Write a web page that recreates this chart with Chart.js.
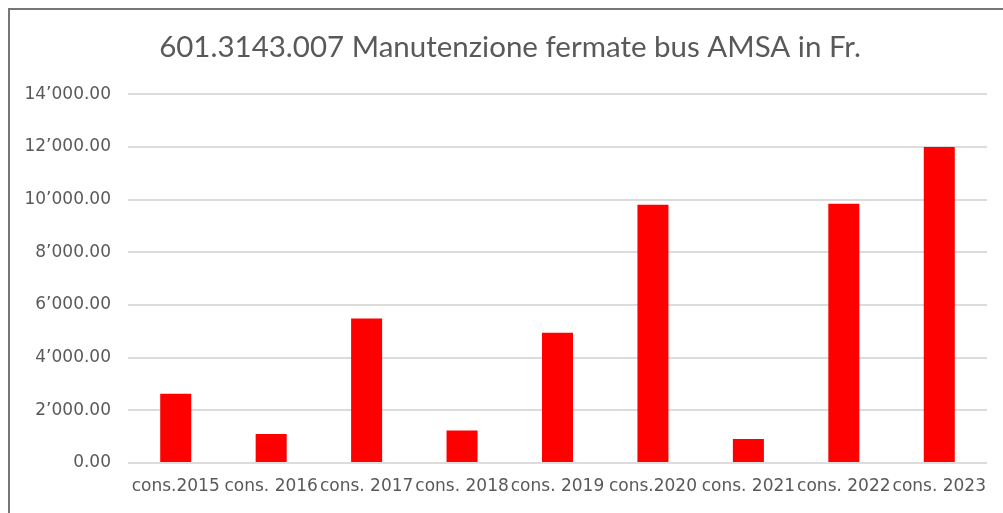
<!DOCTYPE html>
<html>
<head>
<meta charset="utf-8">
<script src="https://cdn.jsdelivr.net/npm/chart.js@4/dist/chart.umd.min.js"></script>
<style>
  html, body { margin: 0; padding: 0; background: #fff; }
  #wrap { position: relative; width: 1003px; height: 513px; }
  #frame { position: absolute; left: 8px; top: 8px; right: -10px; bottom: -10px;
           border-left: 2px solid #767676; border-top: 2px solid #767676; pointer-events: none; }
</style>
</head>
<body>
<div id="wrap">
  <canvas id="chart" width="1003" height="513"></canvas>
  <div id="frame"></div>
</div>
<script>
const titleText = '601.3143.007 Manutenzione fermate bus AMSA in Fr.'
const categories = ['cons.2015', 'cons. 2016', 'cons. 2017', 'cons. 2018', 'cons. 2019',
                    'cons.2020', 'cons. 2021', 'cons. 2022', 'cons. 2023']
const costs = [2630, 1100, 5490, 1230, 4950, 9810, 910, 9850, 12000]
const yTicks = [0, 2000, 4000, 6000, 8000, 10000, 12000, 14000]

function formatFr(v) {
    // swiss style: 14’000.00
    const parts = v.toFixed(2).split('.')
    const intPart = parts[0].replace(/\B(?=(\d{3})+(?!\d))/g, '\u2019')
    return intPart + '.' + parts[1]
}

const grey = '#595959'
const tickFont = { family: 'DejaVu Sans', size: 17 }

// the title in the original sits a bit right of the canvas centre
const titleShift = {
    id: 'titleShift',
    afterLayout(chart) {
        if (chart.titleBlock) chart.titleBlock.left += 33
    }
}

new Chart(document.getElementById('chart').getContext('2d'), {
    type: 'bar',
    data: {
        labels: categories,
        datasets: [{
            label: 'Fr.',
            data: costs,
            backgroundColor: '#ff0000',
            borderWidth: 0,
            barPercentage: 0.325,
            categoryPercentage: 1
        }]
    },
    options: {
        responsive: false,
        animation: false,
        layout: { padding: { left: 0, right: 16, top: 0, bottom: 0 } },
        plugins: {
            legend: { display: false },
            tooltip: { enabled: false },
            title: {
                display: true,
                text: titleText,
                color: grey,
                font: { family: 'Lato', size: 29.5, weight: 'normal' },
                padding: { top: 30, bottom: 29 }
            }
        },
        scales: {
            x: {
                grid: { display: false, drawTicks: false },
                border: { display: false },
                ticks: {
                    color: grey,
                    font: tickFont,
                    padding: 13,
                    maxRotation: 0,
                    autoSkip: false
                },
                afterFit: scale => { scale.height = 50 }
            },
            y: {
                min: 0,
                max: 14000,
                afterBuildTicks: scale => { scale.ticks = yTicks.map(v => ({ value: v })) },
                grid: { color: '#dcdcdc', lineWidth: 2, drawTicks: false },
                border: { display: false },
                ticks: {
                    color: grey,
                    font: tickFont,
                    padding: 17,
                    callback: v => formatFr(v)
                },
                afterFit: scale => { scale.width = 128 }
            }
        }
    },
    plugins: [titleShift]
})
</script>
</body>
</html>
